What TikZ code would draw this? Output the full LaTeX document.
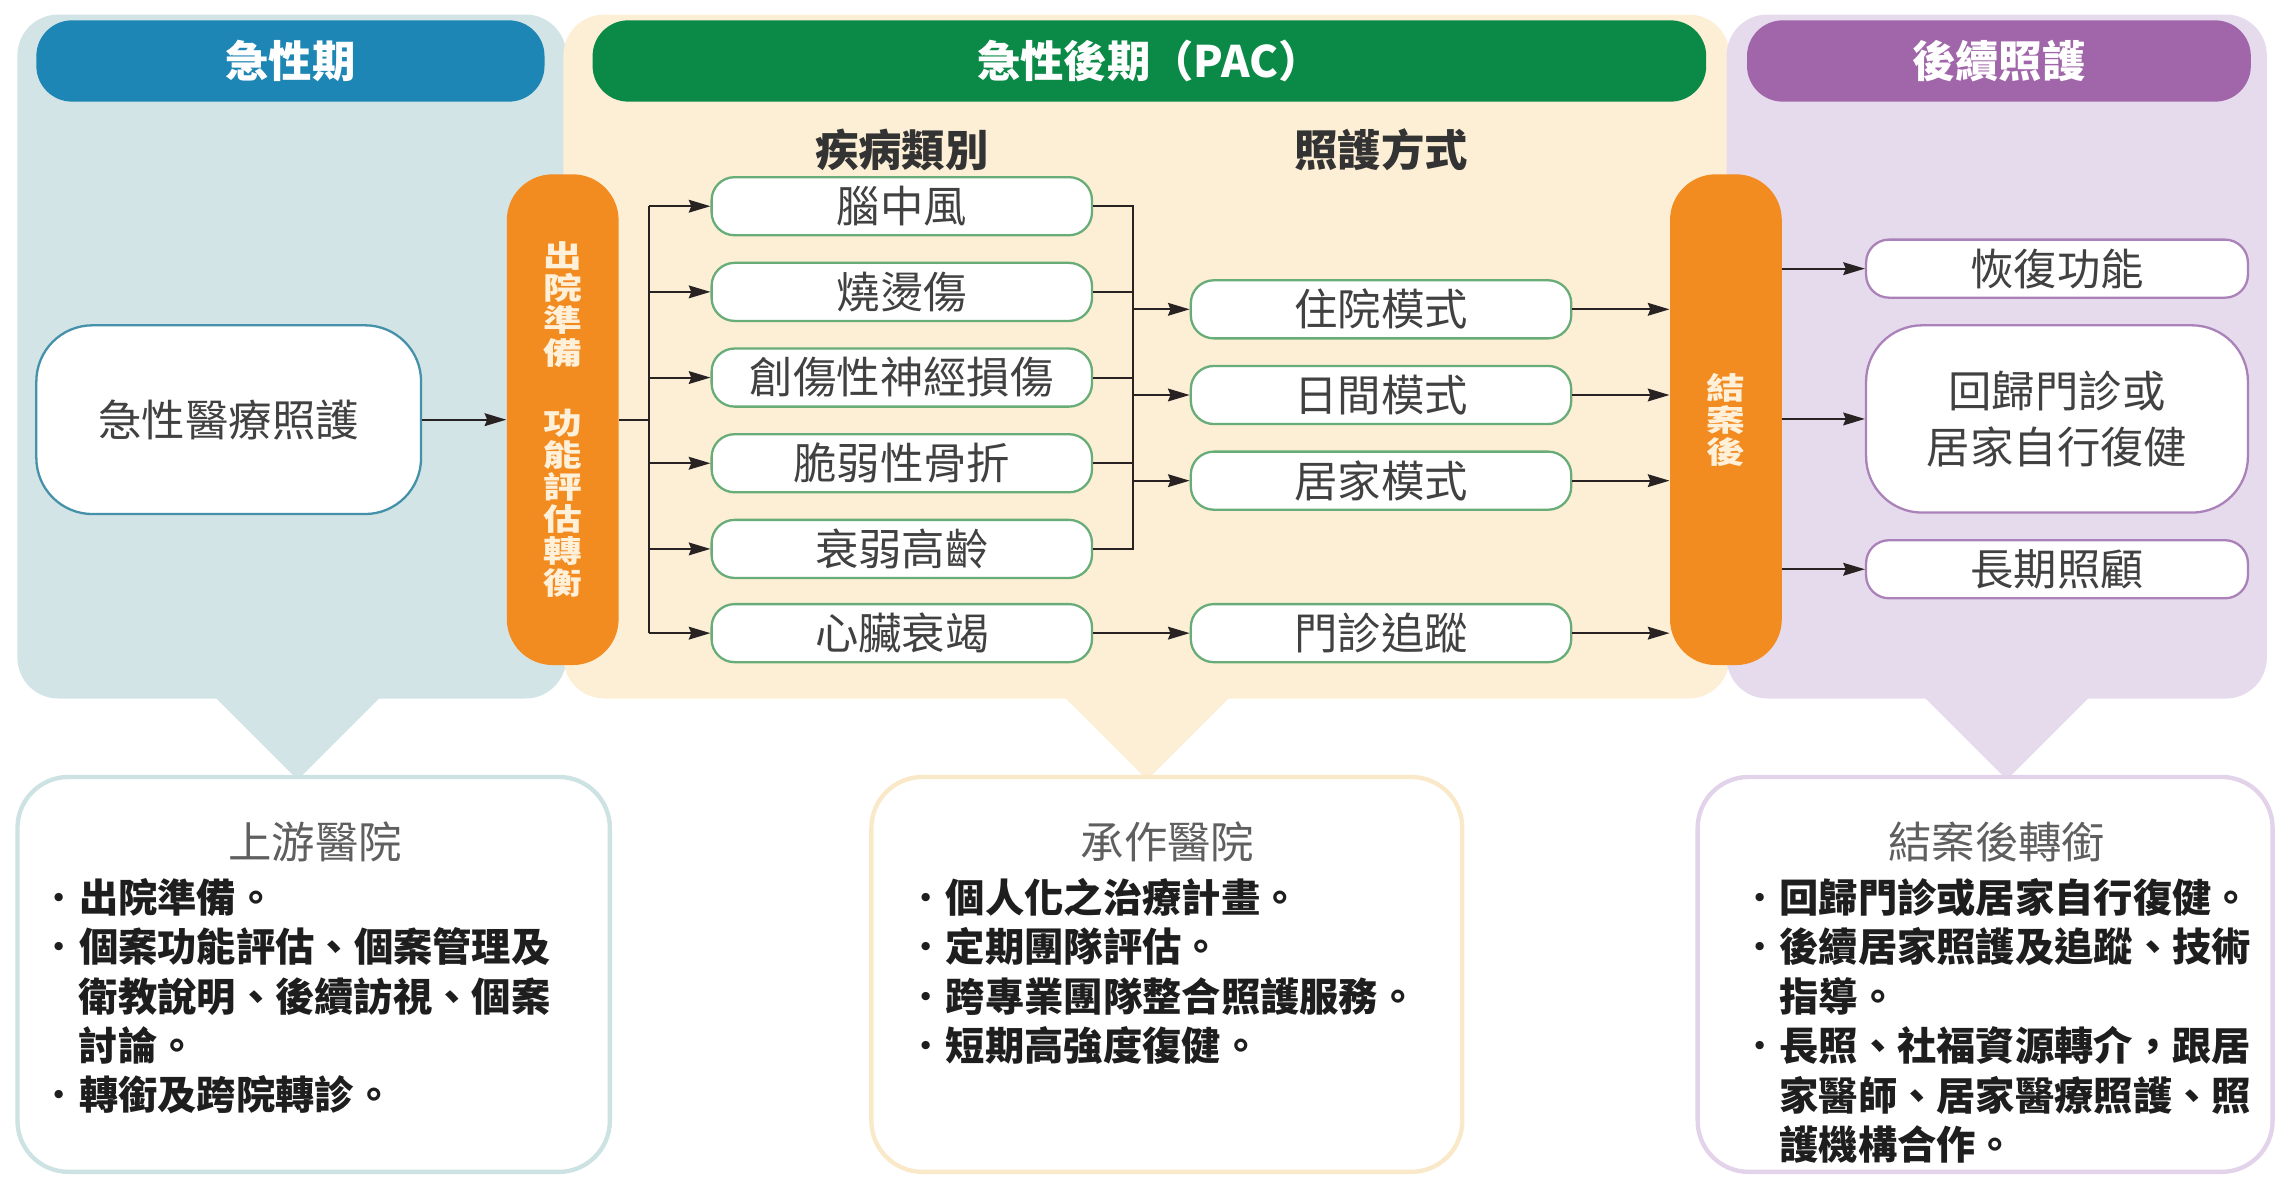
\documentclass[tikz,border=0pt]{standalone}
\usepackage{fontspec}
\usepackage{graphicx}
\setmainfont{Noto Sans CJK TC}
\newcommand\mydot{{\mdseries ・}}
\newcommand\barstack[1]{\scalebox{1.15}[0.9]{\parbox{1.2em}{\centering\lineskiplimit=-\maxdimen #1}}}
\usetikzlibrary{arrows.meta}
\definecolor{panelA}{RGB}{210,228,229}
\definecolor{panelB}{RGB}{252,239,214}
\definecolor{panelC}{RGB}{230,219,236}
\definecolor{hdrA}{RGB}{30,134,180}
\definecolor{hdrB}{RGB}{10,138,70}
\definecolor{hdrC}{RGB}{161,102,170}
\definecolor{barc}{RGB}{242,139,32}
\definecolor{bartxt}{RGB}{255,240,218}
\definecolor{grnline}{RGB}{104,172,120}
\definecolor{bluline}{RGB}{70,145,170}
\definecolor{purline}{RGB}{170,130,185}
\definecolor{bordA}{RGB}{205,226,227}
\definecolor{bordB}{RGB}{250,233,200}
\definecolor{bordC}{RGB}{226,210,234}
\definecolor{arrc}{RGB}{40,34,34}
\definecolor{txtc}{RGB}{65,65,65}
\definecolor{ttlc}{RGB}{95,95,95}
\definecolor{bulc}{RGB}{30,30,30}
\begin{document}
\begin{tikzpicture}[x=0.02cm,y=-0.02cm,
  hdr/.style={rounded corners=14pt, minimum height=1.12cm, inner sep=0pt, text=white, font=\fontsize{17}{20}\selectfont\bfseries},
  wbox/.style={fill=white, line width=0.9pt, inner sep=0pt, font=\fontsize{17}{21.8}\selectfont, text=txtc, align=center},
  dbox/.style={wbox, draw=grnline, rounded corners=9pt, minimum width=5.24cm, minimum height=0.8cm},
  rbox/.style={wbox, draw=purline, rounded corners=9pt, minimum width=5.26cm, minimum height=0.8cm},
  barbox/.style={fill=barc, rounded corners=18pt, minimum width=1.54cm, minimum height=6.76cm, inner sep=0pt, text=bartxt, font=\fontsize{13.2}{14}\selectfont\bfseries},
  colh/.style={font=\fontsize{17}{20}\selectfont\bfseries, text=black!80, inner sep=0pt},
  bbox/.style={fill=white, line width=1.7pt, rounded corners=20pt, minimum height=5.44cm, inner sep=0pt},
  ttl/.style={font=\fontsize{17}{20}\selectfont, text=ttlc, inner sep=0pt},
  bul/.style={font=\fontsize{15.4}{18}\selectfont\bfseries, text=bulc, inner sep=0pt, anchor=west},
  arr/.style={draw=arrc, line width=0.8pt, -{Stealth[length=8.5pt,width=5pt,inset=1pt]}},
  ln/.style={draw=arrc, line width=0.8pt},
]
\useasboundingbox (0,0) rectangle (1568,811);
% panels
\fill[panelA, rounded corners=16pt] (12,10) rectangle (390,481);
\fill[panelB, rounded corners=16pt] (388,10) rectangle (1191,481);
\fill[panelC, rounded corners=16pt] (1189,10) rectangle (1561,481);
% pointers
\fill[panelA, rounded corners=3pt] (138,470) -- (272,470) -- (205,537) -- cycle;
\fill[panelB, rounded corners=3pt] (723,470) -- (857,470) -- (790,537) -- cycle;
\fill[panelC, rounded corners=3pt] (1315,470) -- (1449,470) -- (1382,537) -- cycle;
% headers
\node[hdr, fill=hdrA, minimum width=7cm] (hA) at (200,42) {急性期};
\node[hdr, fill=hdrB, minimum width=15.34cm] (hB) at (791.5,42) {急性後期（PAC）};
\node[hdr, fill=hdrC, minimum width=6.94cm] (hC) at (1376.5,42) {後續照護};
% column headers
\node[colh] (ch1) at (621,103) {疾病類別};
\node[colh] (ch2) at (951,103) {照護方式};
% acute box and bars
\node[wbox, draw=bluline, rounded corners=22pt, minimum width=5.3cm, minimum height=2.6cm] (acute) at (157.5,289) {急性醫療照護};
\node[barbox] (bar1) at (387.5,289) {\barstack{出\\院\\準\\備\\[16.5pt]功\\能\\評\\估\\轉\\衡}};
\node[barbox] (bar2) at (1188.5,289) {\barstack{結\\案\\後}};
% disease boxes
\node[dbox] (d1) at (621,142) {腦中風};
\node[dbox] (d2) at (621,201) {燒燙傷};
\node[dbox] (d3) at (621,260) {創傷性神經損傷};
\node[dbox] (d4) at (621,319) {脆弱性骨折};
\node[dbox] (d5) at (621,378) {衰弱高齡};
\node[dbox] (d6) at (621,436) {心臟衰竭};
% mode boxes
\node[dbox] (m1) at (951,213) {住院模式};
\node[dbox] (m2) at (951,272) {日間模式};
\node[dbox] (m3) at (951,331) {居家模式};
\node[dbox] (m4) at (951,436) {門診追蹤};
% result boxes
\node[rbox] (r1) at (1416.5,185) {恢復功能};
\node[rbox, rounded corners=22pt, minimum height=2.58cm] (r2) at (1416.5,288.5) {回歸門診或\\居家自行復健};
\node[rbox] (r3) at (1416.5,392) {長期照顧};
% connectors
\draw[arr] (acute.east) -- (bar1.west);
\coordinate (tr) at (447,289);
\coordinate (mx) at (780,0);
\draw[ln] (bar1.east) -- (tr);
\draw[ln] (tr |- d1.west) -- (tr |- d6.west);
\foreach \nn in {d1,d2,d3,d4,d5,d6} \draw[arr] (tr |- \nn.west) -- (\nn.west);
\draw[ln] (d1.east) -- (d1.east -| mx) -- (d5.east -| mx) -- (d5.east);
\foreach \nn in {d2,d3,d4} \draw[ln] (\nn.east) -- (\nn.east -| mx);
\foreach \nn in {m1,m2,m3} \draw[arr] (\nn.west -| mx) -- (\nn.west);
\draw[arr] (d6.east) -- (m4.west);
\foreach \nn in {m1,m2,m3,m4} \draw[arr] (\nn.east) -- (\nn.east -| bar2.west);
\foreach \nn in {r1,r2,r3} \draw[arr] (\nn.west -| bar2.east) -- (\nn.west);
% bottom boxes
\node[bbox, draw=bordA, minimum width=8.16cm] (bA) at (216,671) {};
\node[bbox, draw=bordB, minimum width=8.14cm] (bB) at (803.5,671) {};
\node[bbox, draw=bordC, minimum width=7.92cm] (bC) at (1367,671) {};
\node[ttl] (tA) at (217,580) {上游醫院};
\node[ttl] (tB) at (804,580) {承作醫院};
\node[ttl] (tC) at (1375,580) {結案後轉銜};
\node[bul] (a1) at (27,618) {\mydot 出院準備。};
\node[bul] (a2) at (27,652) {\mydot 個案功能評估、個案管理及};
\node[bul] (a3) at (54,686) {衛教說明、後續訪視、個案};
\node[bul] (a4) at (54,720) {討論。};
\node[bul] (a5) at (27,754) {\mydot 轉銜及跨院轉診。};
\node[bul] (b1) at (624,618) {\mydot 個人化之治療計畫。};
\node[bul] (b2) at (624,652) {\mydot 定期團隊評估。};
\node[bul] (b3) at (624,686) {\mydot 跨專業團隊整合照護服務。};
\node[bul] (b4) at (624,720) {\mydot 短期高強度復健。};
\node[bul] (c1) at (1198,618) {\mydot 回歸門診或居家自行復健。};
\node[bul] (c2) at (1198,652) {\mydot 後續居家照護及追蹤、技術};
\node[bul] (c3) at (1225,686) {指導。};
\node[bul] (c4) at (1198,720) {\mydot 長照、社福資源轉介，跟居};
\node[bul] (c5) at (1225,754) {家醫師、居家醫療照護、照};
\node[bul] (c6) at (1225,788) {護機構合作。};
\end{tikzpicture}
\end{document}
